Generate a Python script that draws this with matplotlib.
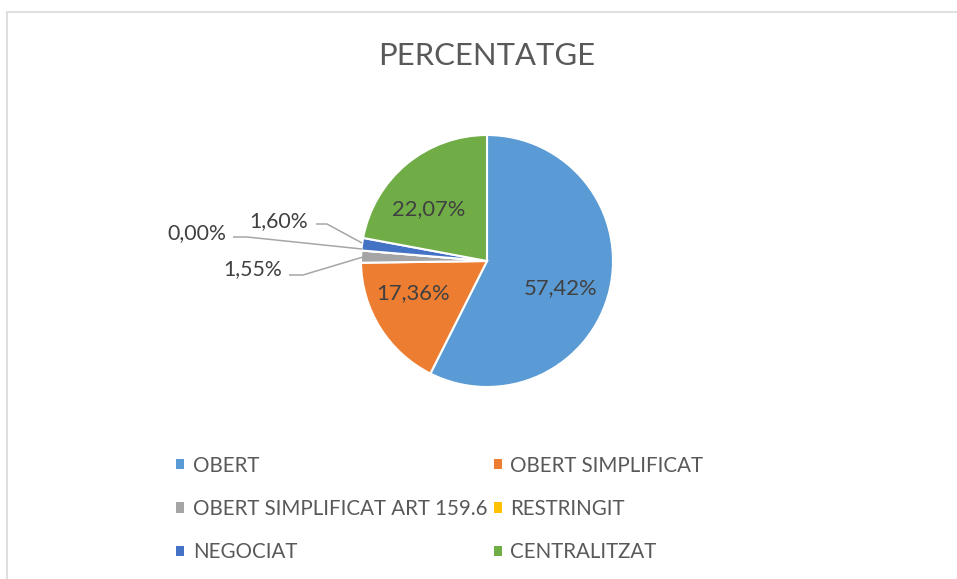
import matplotlib.pyplot as plt
from matplotlib.patches import Patch, Rectangle

# data
labels = ['OBERT', 'OBERT SIMPLIFICAT', 'OBERT SIMPLIFICAT ART 159.6',
          'RESTRINGIT', 'NEGOCIAT', 'CENTRALITZAT']
values = [57.42, 17.36, 1.55, 0.00, 1.60, 22.07]
pct_text = ['57,42%', '17,36%', '1,55%', '0,00%', '1,60%', '22,07%']
colors = ['#5B9BD5', '#ED7D31', '#A5A5A5', '#FFC000', '#4472C4', '#70AD47']

W, H = 957, 579
plt.rcParams['font.family'] = ['Lato', 'DejaVu Sans']

fig = plt.figure(figsize=(W / 100, H / 100), dpi=100)
ax = fig.add_axes([0, 0, 1, 1])


def py(y):
    # pixel row (from top) -> data y
    return H - y


cx, cy, R = 487, 261, 126
wedges, _ = ax.pie(values, colors=colors, startangle=90, counterclock=False,
                   center=(cx, py(cy)), radius=R,
                   wedgeprops=dict(edgecolor='white', linewidth=1.5))
ax.set_xlim(0, W)
ax.set_ylim(0, H)
ax.set_aspect('equal')
ax.axis('off')

# chart border (light grey, runs off the bottom/right)
fig.patches.append(Rectangle((7 / W, -0.1), 1.2, py(12) / H + 0.1,
                             transform=fig.transFigure, fill=False,
                             edgecolor='#D9D9D9', linewidth=1.2))

ax.text(487, py(56), 'PERCENTATGE', ha='center', va='center',
        fontsize=22.3, color='#595959')

lab_col = '#404040'
# labels inside big slices
inside = {0: (561, 288), 1: (413, 293), 5: (429, 209)}
for i, (x, y) in inside.items():
    ax.text(x, py(y), pct_text[i], ha='center', va='center',
            fontsize=15.8, color=lab_col)

# outside labels with leader lines: text pos, line points
outside = {
    4: ((279, 221), [(316, 224), (327, 224), (362, 243)]),
    3: ((197, 233), [(233, 237), (247, 237), (362, 249)]),
    2: ((253, 269), [(289, 275), (303, 275), (363, 257)]),
}
for i, ((x, y), pts) in outside.items():
    ax.text(x, py(y), pct_text[i], ha='center', va='center',
            fontsize=15.3, color=lab_col)
    ax.plot([p[0] for p in pts], [py(p[1]) for p in pts],
            color='#A6A6A6', linewidth=1.1, solid_capstyle='butt')

# legend, row-major order like Excel
order = [0, 2, 4, 1, 3, 5]
handles = [Patch(facecolor=colors[i], edgecolor='none') for i in order]
leg = ax.legend(handles, [labels[i] for i in order], ncol=2,
                loc='upper left', bbox_to_anchor=(176 / W, py(455.5) / H),
                frameon=False, fontsize=14.8, handlelength=0.39,
                handleheight=0.39, handletextpad=0.43, labelspacing=1.14,
                columnspacing=0.3, borderpad=0, borderaxespad=0)
for t in leg.get_texts():
    t.set_color('#595959')

fig.savefig('out.png', dpi=100)
